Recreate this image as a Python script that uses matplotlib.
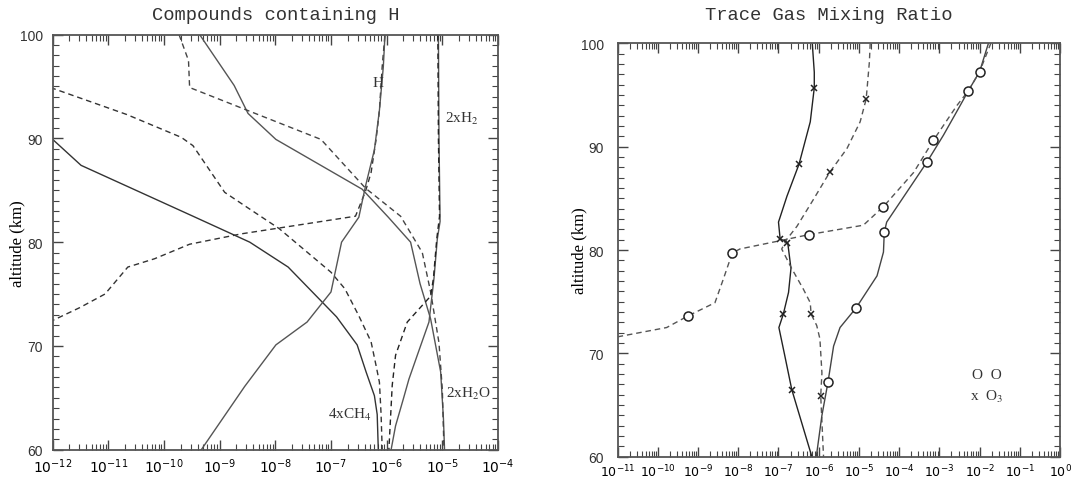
import numpy as np
import matplotlib
matplotlib.use("Agg")
import matplotlib.pyplot as plt
from matplotlib.ticker import LogLocator, MultipleLocator, NullFormatter, LogFormatterMathtext

plt.rcParams["mathtext.fontset"] = "stix"

# ---- left panel: compounds containing H (altitude km, log10 mixing ratio)
ch4_solid_alt = [100, 94.9, 89.9, 87.4, 82.5, 80.0, 77.6, 72.8, 70.1, 67.5, 65.2, 63.4, 60]
ch4_solid_log = [-12.0, -12.04, -12.0, -11.49, -9.48, -8.46, -7.77, -6.90, -6.53, -6.37, -6.22, -6.17, -6.15]
ch4_dash_alt = [94.9, 92.3, 90.1, 89.3, 84.8, 83.4, 81.3, 77.1, 75.5, 72.9, 70.4, 68.1, 66.5, 63.4, 60]
ch4_dash_log = [-12.04, -10.67, -9.69, -9.48, -8.91, -8.52, -7.93, -7.0, -6.75, -6.50, -6.28, -6.19, -6.13, -6.10, -6.08]

h_dash_alt = [72.3, 73.7, 75.0, 77.6, 78.4, 79.8, 80.8, 82.5, 84.9, 86.7, 89.9, 92.7, 96.9, 100]
h_dash_log = [-12.06, -11.51, -11.06, -10.65, -10.17, -9.54, -8.61, -6.56, -6.38, -6.28, -6.19, -6.13, -6.08, -6.03]
h_solid_alt = [60, 66.1, 70.1, 72.3, 75.2, 80.0, 82.4, 85.4, 88.9, 92.7, 96.9, 100]
h_solid_log = [-9.33, -8.55, -7.99, -7.43, -7.0, -6.81, -6.50, -6.38, -6.22, -6.13, -6.06, -6.03]

h2o_solid_alt = [100, 95.1, 92.4, 89.9, 85.1, 82.4, 80.0, 76.0, 72.6, 67.5, 63.0, 60]
h2o_solid_log = [-9.36, -8.74, -8.49, -7.99, -6.44, -5.97, -5.57, -5.40, -5.21, -5.03, -4.98, -4.96]
h2o_dash_alt = [100, 97.5, 94.9, 89.9, 85.2, 82.5, 79.0, 75.2, 70.3, 65.8, 60]
h2o_dash_log = [-9.73, -9.56, -9.54, -7.18, -6.38, -5.75, -5.36, -5.21, -5.06, -5.0, -4.97]

h2_solid_alt = [100, 90, 82, 80.3, 76.5, 72.3, 69.1, 66.8, 64.9, 62.3, 60]
h2_solid_log = [-5.07, -5.06, -5.04, -5.09, -5.15, -5.24, -5.45, -5.60, -5.70, -5.84, -5.92]
h2_dash_alt = [100, 90, 82.5, 80.3, 76.5, 74.8, 72.3, 69.1, 66.2, 60]
h2_dash_log = [-5.08, -5.07, -5.05, -5.10, -5.16, -5.21, -5.63, -5.84, -5.90, -5.96]

# ---- right panel: trace gas mixing ratio
o3_solid_alt = [100, 97.2, 95.7, 92.4, 88.3, 85.2, 82.7, 81.1, 80.7, 78.2, 75.9, 73.8, 72.5, 69.9, 66.5, 60]
o3_solid_log = [-6.16, -6.11, -6.11, -6.21, -6.49, -6.79, -7.0, -6.96, -6.77, -6.69, -6.75, -6.88, -6.99, -6.85, -6.67, -6.17]
o3_solid_mk_alt = [95.7, 88.3, 81.1, 73.8, 66.5]
o3_solid_mk_log = [-6.11, -6.49, -6.96, -6.88, -6.67]

o3_dash_alt = [100, 98.2, 94.6, 92.4, 89.8, 87.5, 84.9, 82.3, 81.0, 80.1, 78.2, 76.2, 74.9, 73.8, 72.7, 71.4, 68.1, 65.9, 60]
o3_dash_log = [-4.72, -4.74, -4.82, -4.97, -5.30, -5.73, -6.13, -6.54, -6.80, -6.92, -6.67, -6.38, -6.21, -6.19, -6.05, -5.97, -5.92, -5.95, -5.88]
o3_dash_mk_alt = [94.6, 87.5, 80.7, 73.8, 65.9]
o3_dash_mk_log = [-4.82, -5.73, -6.78, -6.19, -5.95]

o_solid_alt = [100, 97.25, 95.4, 94.0, 91.1, 88.5, 85.6, 82.7, 81.7, 79.8, 77.5, 74.4, 72.5, 70.7, 67.2, 64.0, 60]
o_solid_log = [-1.78, -2.0, -2.28, -2.48, -2.90, -3.31, -3.81, -4.31, -4.37, -4.39, -4.55, -5.07, -5.47, -5.63, -5.77, -5.92, -6.06]
o_solid_mk_alt = [97.25, 88.5, 81.7, 74.4, 67.2]
o_solid_mk_log = [-2.0, -3.31, -4.37, -5.07, -5.77]

o_dash_alt = [71.6, 72.5, 73.6, 74.9, 77.2, 79.7, 80.1, 80.9, 81.5, 82.4, 83.3, 84.2, 87.5, 90.6, 94.0, 95.4, 97.25, 100]
o_dash_log = [-11.0, -9.78, -9.26, -8.58, -8.37, -8.15, -7.96, -6.96, -6.23, -4.89, -4.64, -4.39, -3.64, -3.15, -2.56, -2.28, -2.0, -1.72]
o_dash_mk_alt = [73.6, 79.7, 81.5, 84.2, 90.6, 95.4]
o_dash_mk_log = [-9.26, -8.15, -6.23, -4.39, -3.15, -2.28]

DASH = (4, 2.8)


def style_axes(ax, emin, emax, xfs, xpad, ypad, label_x):
    ax.set_xscale("log")
    ax.set_xlim(10.0 ** emin, 10.0 ** emax)
    ax.set_ylim(60, 100)
    # only decades inside the axis, so no hidden labels hang past the figure edge
    ax.set_xticks(10.0 ** np.arange(emin, emax + 1))
    ax.xaxis.set_major_formatter(LogFormatterMathtext())
    ax.xaxis.set_minor_locator(LogLocator(base=10, subs=np.arange(2, 10), numticks=20))
    ax.xaxis.set_minor_formatter(NullFormatter())
    ax.yaxis.set_major_locator(MultipleLocator(10))
    ax.yaxis.set_minor_locator(MultipleLocator(1))
    ax.tick_params(which="both", direction="in", top=True, right=True, color="#444")
    ax.tick_params(which="major", length=7, width=1)
    ax.tick_params(which="minor", length=4, width=0.8)
    ax.tick_params(axis="x", labelsize=xfs, pad=xpad)
    ax.tick_params(axis="y", labelsize=10, pad=ypad)
    for lab in ax.get_yticklabels():
        lab.set_fontfamily("Liberation Sans")
        lab.set_color("#333")
    for s in ax.spines.values():
        s.set_linewidth(1.3)
        s.set_color("#555")
    ax.set_ylabel("altitude (km)", family="Liberation Serif", fontsize=12)
    ax.yaxis.set_label_coords(label_x, 0.5)


def line(ax, alt, lg, color, dashed=False, lw=1.0):
    x = 10.0 ** np.array(lg)
    if dashed:
        ax.plot(x, alt, color=color, lw=lw, dashes=DASH)
    else:
        ax.plot(x, alt, color=color, lw=lw)


def plot_left(ax):
    line(ax, ch4_solid_alt, ch4_solid_log, "#333")
    line(ax, ch4_dash_alt, ch4_dash_log, "#333", dashed=True)
    line(ax, h_dash_alt, h_dash_log, "#333", dashed=True)
    line(ax, h_solid_alt, h_solid_log, "#555")
    line(ax, h2o_solid_alt, h2o_solid_log, "#555")
    line(ax, h2o_dash_alt, h2o_dash_log, "#444", dashed=True)
    line(ax, h2_solid_alt, h2_solid_log, "#555")
    line(ax, h2_dash_alt, h2_dash_log, "#222", dashed=True)
    style_axes(ax, -12, -4, 10, 5, 7, -0.062)
    tk = dict(family="Liberation Serif", fontsize=11, color="#333", va="center")
    ax.text(10 ** -6.15, 95.4, "H", ha="center", **tk)
    ax.text(10 ** -4.95, 92.0, "2xH$_2$", ha="left", **tk)
    ax.text(10 ** -4.94, 65.5, "2xH$_2$O", ha="left", **tk)
    ax.text(10 ** -7.06, 63.4, "4xCH$_4$", ha="left", **tk)


def plot_right(ax):
    line(ax, o3_solid_alt, o3_solid_log, "#222")
    line(ax, o3_dash_alt, o3_dash_log, "#555", dashed=True)
    line(ax, o_solid_alt, o_solid_log, "#444")
    line(ax, o_dash_alt, o_dash_log, "#555", dashed=True)
    for a, l in [(o3_solid_mk_alt, o3_solid_mk_log), (o3_dash_mk_alt, o3_dash_mk_log)]:
        ax.plot(10.0 ** np.array(l), a, ls="none", marker="x", ms=4.5, mew=1.1, color="#222")
    for a, l in [(o_solid_mk_alt, o_solid_mk_log), (o_dash_mk_alt, o_dash_mk_log)]:
        ax.plot(10.0 ** np.array(l), a, ls="none", marker="o", ms=6.5, mew=1.1,
                mfc="white", mec="#222")
    style_axes(ax, -11, 0, 9, 4, 10, -0.069)
    tk = dict(family="Liberation Serif", fontsize=11, color="#333", va="center", ha="left")
    ax.text(10 ** -2.19, 68.0, "O  O", **tk)
    ax.text(10 ** -2.25, 65.9, "x  O$_3$", **tk)


fig = plt.figure(figsize=(10.73, 4.81), dpi=100)
ax1 = fig.add_axes([0.0491, 0.063, 0.415, 0.863])
ax2 = fig.add_axes([0.5756, 0.0484, 0.4123, 0.8595])
plot_left(ax1)
plot_right(ax2)

fig.text(0.2566, 0.968, "Compounds containing H", family="Liberation Mono",
         fontsize=13.5, ha="center", va="center", color="#333")
fig.text(0.7725, 0.968, "Trace Gas Mixing Ratio", family="Liberation Mono",
         fontsize=13.5, ha="center", va="center", color="#333")

fig.savefig("out.png", dpi=100)
